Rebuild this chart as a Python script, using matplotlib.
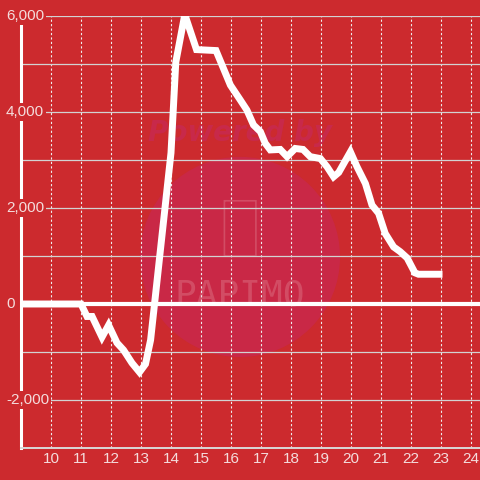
import matplotlib
matplotlib.use('Agg')
import matplotlib.pyplot as plt
from matplotlib.patches import Ellipse, FancyBboxPatch

plt.rcParams['font.family'] = ['Liberation Sans', 'DejaVu Sans']

# data (hour of day, value)
hours = [9.0, 10.0, 11.0, 11.2, 11.37, 11.7, 11.92, 12.2, 12.42, 12.7, 12.95,
         13.15, 13.32, 14.0, 14.16, 14.46, 14.85, 15.5, 15.98, 16.31, 16.53,
         16.75, 16.98, 17.14, 17.31, 17.64, 17.87, 18.14, 18.4, 18.64, 18.98,
         19.2, 19.42, 19.59, 19.98, 20.2, 20.48, 20.7, 20.92, 21.14, 21.42,
         21.64, 21.87, 22.13, 22.25, 23.05]
values = [0, 0, 0, -260, -260, -690, -440, -810, -960, -1230, -1420,
          -1250, -750, 3150, 5040, 6030, 5300, 5280, 4560, 4250, 4040,
          3730, 3590, 3350, 3210, 3220, 3070, 3240, 3220, 3070, 3030,
          2860, 2650, 2740, 3170, 2860, 2510, 2060, 1890, 1470, 1190,
          1090, 960, 650, 620, 620]

x_ticks = list(range(10, 25))
y_ticks = [-2000, 0, 2000, 4000, 6000]
y_labels = ['-2,000', '0', '2,000', '4,000', '6,000']
y_grid = [-3000, -1000, 1000, 3000, 5000]

bg = '#cc2a2e'
txt = '#f4dcdc'

fig = plt.figure(figsize=(4.8, 4.8), dpi=100, facecolor=bg)
ax = fig.add_axes([21/480, 32/480, 459/480, 432/480])
ax.set_facecolor(bg)
ax.set_xlim(9.0, 24.3)
ax.set_ylim(-3000, 6000)

# watermark
ax.add_patch(Ellipse((16.3, 980), 6.67, 4170, facecolor='#c92846',
                     edgecolor='none', zorder=0.1))
ax.text(16.3, 3560, 'Powered by', ha='center', va='center', fontsize=20,
        fontweight='bold', fontstyle='italic', color='#c8294a', zorder=0.2,
        family='DejaVu Sans')
ax.add_patch(FancyBboxPatch((15.78, 1000), 1.05, 1150,
                            boxstyle='round,pad=0,rounding_size=0.1',
                            facecolor='none', edgecolor='#d24c64',
                            linewidth=1.2, zorder=0.2))
ax.text(16.3, -40, 'PAPIMO', ha='center', va='baseline', fontsize=26,
        color='#d24c64', zorder=0.2, family='DejaVu Sans Mono')

# grid
ax.set_axisbelow(True)
ax.set_xticks(x_ticks)
ax.set_yticks(y_ticks)
ax.set_yticks(y_grid, minor=True)
ax.set_yticklabels([])
ax.grid(axis='x', color='#eeeeee', linestyle=(0, (2, 2)), linewidth=0.8)
ax.grid(axis='y', which='both', color='#d2d2d2', linestyle='-', linewidth=0.9)
ax.tick_params(axis='both', which='both', length=0)
ax.tick_params(axis='x', colors=txt, labelsize=11, pad=3)

for s in ['top', 'right']:
    ax.spines[s].set_visible(False)
ax.spines['left'].set_color('white')
ax.spines['left'].set_linewidth(2.2)
ax.spines['bottom'].set_color('#d8d8d8')
ax.spines['bottom'].set_linewidth(1.4)

# zero line and series
ax.axhline(0, color='white', linewidth=3, zorder=3)
ax.plot(hours, values, color='white', linewidth=5, solid_capstyle='butt',
        solid_joinstyle='miter', zorder=4)

# y labels sitting over the axis line
trans = ax.get_yaxis_transform()
for v, lab in zip(y_ticks, y_labels):
    ax.text(-15/459, v, lab, transform=trans, ha='left', va='center',
            fontsize=11, color=txt, clip_on=False, zorder=6,
            bbox=dict(facecolor=bg, edgecolor='none', pad=1.5))

fig.savefig('out.png', dpi=100, facecolor=bg)
